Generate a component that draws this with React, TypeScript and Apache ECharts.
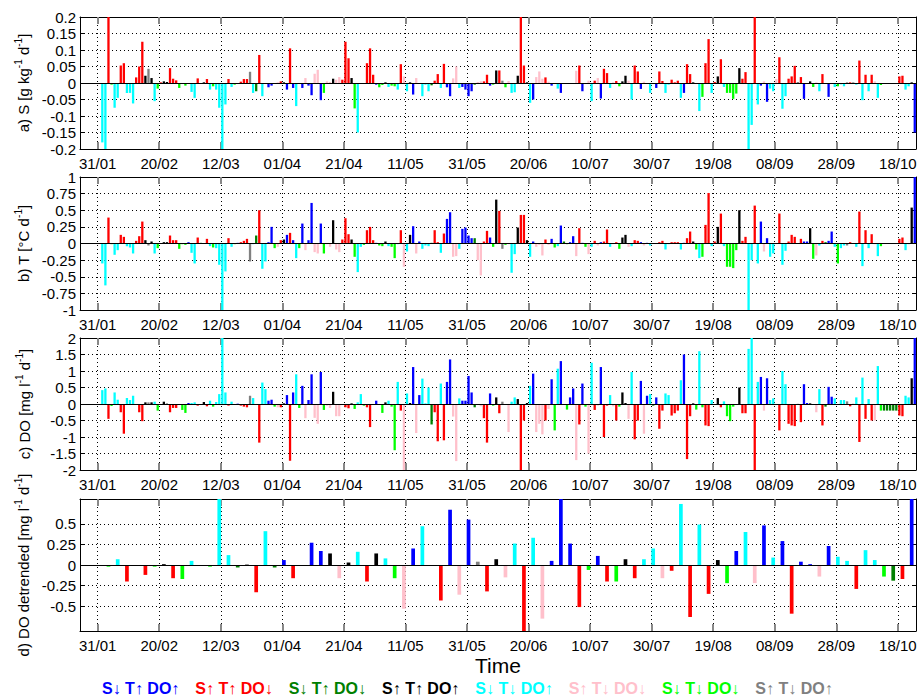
import React, { useEffect, useRef } from 'react';
import * as echarts from 'echarts';

// ---------- x axis ----------
const tickLabels = ['31/01', '20/02', '12/03', '01/04', '21/04', '11/05', '31/05', '20/06', '10/07', '30/07', '19/08', '08/09', '28/09', '18/10'];
const tickDays = [0, 20, 40, 60, 80, 100, 120, 140, 160, 180, 200, 220, 240, 260];
const X_MIN = -5.75;
const X_MAX = 265.9;

// ---------- categories ----------
const categoryCodes = ['B', 'R', 'D', 'K', 'C', 'P', 'G', 'Y'];
const categoryNames = ['S↓ T↑ DO↑', 'S↑ T↑ DO↓', 'S↓ T↑ DO↓', 'S↑ T↑ DO↑', 'S↓ T↓ DO↑', 'S↑ T↓ DO↓', 'S↓ T↓ DO↓', 'S↑ T↓ DO↑'];
const categoryColors = ['#0000ff', '#ff0000', '#008000', '#000000', '#00ffff', '#ffc0cb', '#00ff00', '#808080'];

// ---------- daily data (day k, plotted at k + 0.5 days after 31/01) ----------
const dailyCategory = (
  '-CCRGCCRRC' + 'CCRRRKYKCG' + 'RKKRRRGGGB' + 'CCRDKRCGCC' + 'CCRCGBRRRY' +
  'CDRCCBBGPR' + 'KBRBCGBPBB' + 'PPBGPPKPPR' + 'RRKGCCGRRR' + 'BGGKCGGCRP' +
  'CKBPBCCCDR' + 'RCRBBPPCBB' + 'BBDPPRRBGK' + 'RYGPCCKRRK' + 'CBPPPRPBGC' +
  'BDGBBPRBGP' + 'CRPBRRCPRG' + 'KKPCRRBPBC' + 'DBRRCCRRRC' + 'BRRKGCGRRC' +
  'RKRCGGGGKR' + 'RCCRCBPBCC' + 'PRCCRRRYRB' + 'BKGPCRDBBC' + 'GCCYRYCRCR' +
  'CRPCGDDDDD' + 'RRCCKB'
).split('');

const salinity = [
  0, -0.18, -0.21, 0.21, -0.005, -0.075, -0.045, 0.053, 0.06, -0.03,
  -0.03, -0.062, 0.017, 0.05, 0.125, 0.022, 0.043, 0.015, -0.055, -0.017,
  0.002, 0.005, 0.003, 0.045, 0.013, 0.008, -0.015, -0.003, -0.008, -0.002,
  -0.027, -0.045, 0.014, -0.002, 0.002, 0.012, -0.02, -0.01, -0.02, -0.075,
  -0.21, -0.065, 0.012, -0.012, -0.005, -0.003, 0.004, 0.012, 0.012, 0.034,
  -0.03, -0.025, 0.085, -0.04, -0.002, -0.013, -0.008, -0.002, 0.002, 0.005,
  0.002, -0.02, 0.105, -0.015, -0.07, -0.002, -0.015, 0.015, -0.008, -0.037,
  0.028, 0.04, -0.052, -0.03, 0.005, 0.003, 0.013, 0.01, 0.018, 0.01,
  0.125, 0.075, 0.015, -0.077, -0.15, -0.003, -0.003, 0.06, 0.105, 0.025,
  -0.005, -0.013, -0.006, 0.002, -0.012, -0.008, -0.01, -0.02, 0.057, 0.02,
  -0.025, 0.002, -0.035, 0.015, -0.002, -0.04, -0.005, -0.025, -0.007, 0.007,
  0.027, -0.015, 0.058, -0.013, -0.04, 0.014, 0.05, -0.015, -0.012, -0.02,
  -0.04, -0.025, -0.005, 0.003, 0.005, 0.005, 0.025, -0.008, -0.005, 0.038,
  0.038, 0.007, -0.013, 0.006, -0.03, -0.028, 0.022, 0.21, 0.053, 0.002,
  -0.06, -0.05, 0.018, 0.035, 0.013, 0.017, 0.004, -0.008, -0.002, -0.017,
  -0.03, -0.003, -0.003, -0.002, -0.002, 0.037, 0.053, -0.025, -0.002, 0.007,
  -0.055, 0.007, 0.015, -0.047, 0.043, 0.03, -0.015, 0.002, 0.006, -0.01,
  0.005, 0.022, 0.007, -0.05, 0.053, 0.035, -0.018, 0.004, -0.003, -0.03,
  -0.002, -0.015, 0.035, 0.006, -0.03, -0.005, 0.01, 0.002, 0.007, -0.045,
  -0.03, 0.057, 0.027, 0.002, -0.003, -0.085, -0.042, 0.06, 0.133, -0.03,
  0.003, 0.02, 0.072, -0.012, -0.03, -0.03, -0.048, -0.032, 0.045, 0.013,
  0.033, -0.21, -0.127, 0.21, -0.065, -0.008, 0.005, -0.057, -0.017, -0.025,
  0.012, 0.078, -0.078, -0.04, 0.013, 0.02, 0.052, 0.003, 0.018, -0.048,
  -0.002, 0.005, -0.012, 0.002, -0.025, 0.027, -0.002, -0.042, -0.002, -0.012,
  -0.01, -0.004, -0.01, 0.002, 0.002, 0.002, -0.005, 0.068, -0.052, 0.025,
  -0.025, 0.025, 0.005, -0.045, -0.006, -0.001, -0.001, -0.001, -0.001, -0.001,
  0.02, 0.022, -0.02, -0.01, 0.002, -0.15,
];

const temperature = [
  0, -0.3, -0.63, 0.39, -0.01, -0.17, -0.1, 0.13, 0.1, -0.04,
  -0.06, -0.15, 0.04, 0.11, 0.33, 0.05, -0.03, 0.03, -0.15, -0.07,
  0.005, 0.02, 0.02, 0.12, 0.05, 0.05, -0.08, -0.01, -0.02, 0.02,
  -0.14, -0.3, 0.09, 0.01, 0.005, 0.07, -0.04, -0.06, -0.07, -0.32,
  -1.05, -0.42, 0.08, -0.05, -0.01, 0.01, 0.02, 0.04, 0.07, -0.27,
  -0.01, 0.12, 0.5, -0.38, -0.27, 0.02, 0.25, -0.07, -0.05, 0.05,
  0.06, 0.13, 0.16, 0.05, -0.22, -0.07, 0.3, -0.1, 0.05, 0.61,
  -0.13, -0.15, 0.3, -0.15, -0.01, -0.05, 0.35, -0.09, -0.13, 0.06,
  0.38, 0.14, 0.06, -0.2, -0.43, -0.05, -0.02, 0.2, 0.25, 0.05,
  0.01, -0.03, -0.04, 0.03, -0.04, -0.05, -0.22, -0.01, 0.2, -0.35,
  -0.12, 0.13, 0.26, -0.15, 0.03, -0.08, -0.03, -0.04, 0.01, 0.2,
  0.02, -0.14, 0.15, 0.37, 0.47, -0.2, -0.19, -0.08, 0.22, 0.24,
  0.12, 0.08, 0.08, -0.25, -0.48, 0.03, 0.19, 0.09, -0.05, 0.66,
  0.49, -0.08, -0.02, -0.01, -0.44, -0.16, 0.24, 0.43, 0.43, 0.05,
  -0.2, 0.03, -0.05, -0.02, -0.18, 0.06, -0.02, 0.07, -0.06, -0.04,
  0.27, 0.03, -0.01, 0.02, 0.11, -0.19, 0.23, 0.01, -0.05, -0.16,
  -0.05, 0.04, -0.03, 0.02, 0.03, 0.21, -0.05, -0.01, 0.02, -0.08,
  0.09, 0.13, -0.05, -0.04, 0.05, 0.04, 0.02, -0.03, 0.01, -0.03,
  0.005, 0.005, 0.02, 0.04, -0.09, -0.01, 0.02, 0.02, 0.02, -0.09,
  0.01, 0.08, 0.18, 0.03, -0.09, -0.22, -0.2, 0.28, 0.76, -0.04,
  0.03, 0.25, 0.45, -0.04, -0.35, -0.35, -0.37, -0.1, 0.5, 0.04,
  0.1, -1.05, -0.25, 0.57, -0.3, 0.33, -0.12, 0.08, -0.2, -0.15,
  -0.005, 0.45, -0.32, -0.11, 0.03, 0.13, 0.1, -0.005, 0.07, 0.03,
  0.03, 0.23, -0.23, -0.18, -0.03, 0.04, 0.02, 0.04, 0.18, -0.05,
  -0.3, -0.07, -0.03, -0.03, 0.02, -0.005, -0.05, 0.48, -0.34, 0.2,
  -0.07, 0.14, -0.01, -0.19, -0.04, 0.003, 0.003, 0.003, 0.003, 0.003,
  0.07, 0.09, -0.1, -0.01, 0.54, 1.05,
];

const oxygen = [
  0, 0.42, 0.47, -0.45, -0.06, 0.35, 0.13, -0.25, -0.9, 0.18,
  0.12, 0.25, -0.02, -0.25, -0.52, 0.05, 0.05, 0.05, 0.07, -0.2,
  -0.03, 0.07, 0.01, -0.25, -0.12, -0.12, -0.03, -0.18, -0.27, 0.03,
  0.03, 0.05, -0.05, -0.03, 0.06, -0.07, 0.1, -0.08, 0.06, 0.3,
  2.1, 0.35, -0.05, 0.07, -0.02, 0.01, -0.05, -0.08, -0.1, 0.25,
  0.18, -0.02, -1.17, 0.65, 0.45, 0.1, 0.13, -0.08, -0.1, -0.1,
  0.02, 0.27, -1.72, 0.35, 0.9, -0.12, 0.55, -0.43, 0.12, 0.9,
  -0.42, -0.6, 0.97, -0.18, -0.05, -0.12, 0.37, -0.37, -0.37, -0.03,
  -0.1, -0.13, 0.02, -0.15, 0.05, 0.3, -0.05, -0.1, -0.7, -0.02,
  0.1, -0.02, -0.27, 0.05, 0.1, -0.08, -1.4, 0.67, -0.2, -2.1,
  0.32, 0.03, 1.12, -0.88, 0.27, 0.77, 0.02, 0.5, -0.62, -0.25,
  -1.13, 0.62, -1.1, 0.67, 1.35, -0.38, -1.73, 0.17, 0.1, 0.1,
  0.85, 0.35, -0.1, -0.02, -0.07, -0.43, -1.17, 0.32, -0.05, 0.2,
  -0.28, 0.07, -0.01, -0.85, 0.07, 0.2, 0.15, -2.1, -0.5, 0.03,
  0.55, 0.92, -0.85, -0.6, -0.92, -0.5, -0.15, 0.75, -0.8, 1.07,
  1.3, -0.03, -0.17, 0.2, 0.47, -1.7, -0.62, 0.62, -0.08, -1.5,
  1.25, -0.18, -0.05, 1.12, -1.0, -0.05, 0.27, -0.07, -0.5, -0.08,
  0.35, 0.03, -0.45, 0.97, -1.07, -0.5, 0.7, -0.9, 0.25, 0.3,
  -0.05, 0.2, -0.75, -0.2, 0.32, 0.27, -0.35, -0.28, -0.2, 0.72,
  1.5, -1.67, -0.37, 0.02, -0.17, 1.6, -0.1, -0.65, -0.67, 0.12,
  -0.03, 0.18, -0.1, 0.08, -0.37, -0.52, -0.08, -0.03, 0.5, -0.28,
  -0.28, 1.67, 2.1, -2.1, 0.67, 0.82, -0.2, 0.78, 0.12, 0.17,
  -0.02, -0.8, 1.0, 0.6, -0.6, -0.65, -0.67, 0.005, -0.55, 0.6,
  0.03, 0.02, -0.03, -0.25, 0.45, -0.65, -0.08, 0.52, 0.22, 0.17,
  -0.03, 0.12, 0.12, 0.08, -0.07, 0.005, 0.2, -1.15, 0.8, -0.45,
  0.15, -0.5, -0.5, 1.15, -0.2, -0.2, -0.2, -0.2, -0.2, -0.2,
  -0.35, -0.37, 0.25, 0.2, 0.78, 2.1,
];

// ---------- 3-day detrended DO (bar j plotted at 3j + 0.5 days after 31/01, j = 1..88) ----------
const detrendedCategory = (
  'GCRRRGKRGC' + 'RGCCDYRCDB' + 'RDBBKPKCRK' + 'CGPBCDRBPB' + 'YRKPCRCPBB' +
  'BRGBRGKRCC' + 'PRCRCRKGBC' + 'PBCBRBBPBC' + 'CRCCGDRB'
).split('');

const detrendedOxygen = [
  -0.02, 0.07, -0.2, -0.003, -0.12, -0.02, 0.01, -0.16, -0.17, 0.05,
  -0.005, -0.02, 0.85, 0.12, -0.03, 0.01, -0.33, 0.41, -0.03, 0.06,
  -0.16, -0.005, 0.27, 0.17, 0.14, -0.16, 0.03, 0.16, -0.2, 0.14,
  0.08, -0.16, -0.53, 0.2, 0.47, -0.005, -0.43, 0.67, -0.36, 0.55,
  0.04, -0.32, 0.07, -0.15, 0.26, -0.85, 0.33, -0.65, 0.05, 0.85,
  0.26, -0.51, -0.06, 0.11, -0.2, -0.2, 0.07, -0.16, 0.07, 0.2,
  -0.16, -0.07, 0.74, -0.63, 0.49, -0.35, 0.06, -0.22, 0.17, 0.4,
  -0.22, 0.48, 0.09, 0.29, -0.59, 0.04, 0.01, -0.14, 0.23, 0.1,
  0.05, -0.29, 0.18, 0.06, -0.14, -0.19, -0.17, 0.85,
];

const FONT = 'Liberation Sans';

const dailyX = dailyCategory.map((_, k) => k + 0.5);
const detrendedX = detrendedCategory.map((_, i) => 3 * (i + 1) + 0.5);

const panels = [
  { top: 17, height: 132, min: -0.2, max: 0.2, interval: 0.05, values: salinity, xs: dailyX, cats: dailyCategory, barWidth: 2.3,
    name: '{t|a) S [g kg}{s|-1}{t| d}{s|-1}{t|]}' },
  { top: 177, height: 133, min: -1, max: 1, interval: 0.25, values: temperature, xs: dailyX, cats: dailyCategory, barWidth: 2.3,
    name: '{t|b) T [°C d}{s|-1}{t|]}' },
  { top: 338, height: 132, min: -2, max: 2, interval: 0.5, values: oxygen, xs: dailyX, cats: dailyCategory, barWidth: 2.3,
    name: '{t|c) DO [mg l}{s|-1}{t| d}{s|-1}{t|]}' },
  { top: 499, height: 132, min: -0.8, max: 0.8, custom: [-0.5, -0.25, 0, 0.25, 0.5], values: detrendedOxygen, xs: detrendedX, cats: detrendedCategory, barWidth: 3.7,
    name: '{t|d) DO detrended [mg l}{s|-1}{t| d}{s|-1}{t|]}' },
];

function buildOption() {
  const grid: any[] = [];
  const xAxis: any[] = [];
  const yAxis: any[] = [];
  const series: any[] = [];
  const axisLine = { show: true, onZero: false, lineStyle: { color: '#000', width: 1 } };
  const dotted = { show: true, lineStyle: { color: '#000', type: [1, 3], width: 1 } };

  panels.forEach((p: any, i) => {
    grid.push({ left: 80, right: 5, top: p.top, height: p.height, containLabel: false });
    xAxis.push({
      type: 'value', gridIndex: i, min: X_MIN, max: X_MAX, position: 'bottom',
      axisLine,
      axisTick: { show: true, inside: true, length: 7, customValues: tickDays, lineStyle: { color: '#888', width: 2 } },
      axisLabel: {
        show: true, customValues: tickDays, margin: 7, color: '#000', fontSize: 15, fontFamily: FONT,
        formatter: (v: number) => tickLabels[Math.round(v / 20)] ?? '',
      },
      splitLine: dotted,
      name: i === 3 ? 'Time' : '', nameLocation: 'middle', nameGap: 24,
      nameTextStyle: { color: '#000', fontSize: 21, fontFamily: FONT, lineHeight: 21 },
    });
    xAxis.push({
      type: 'value', gridIndex: i, min: X_MIN, max: X_MAX, position: 'top',
      axisLine,
      axisTick: { show: true, inside: true, length: 7, customValues: tickDays, lineStyle: { color: '#888', width: 2 } },
      axisLabel: { show: false }, splitLine: { show: false },
    });
    const yTick: any = { show: true, inside: true, length: 4, lineStyle: { color: '#000', width: 1 } };
    const yLab: any = { show: true, margin: 4, color: '#000', fontSize: 15, fontFamily: FONT };
    if (p.custom) { yTick.customValues = p.custom; yLab.customValues = p.custom; }
    yAxis.push({
      type: 'value', gridIndex: i, min: p.min, max: p.max, ...(p.interval ? { interval: p.interval } : {}),
      position: 'left', axisLine, axisTick: yTick, axisLabel: yLab, splitLine: dotted,
      name: p.name, nameLocation: 'middle', nameRotate: 90, nameGap: 46,
      nameTextStyle: {
        color: '#000', fontFamily: FONT,
        rich: {
          t: { fontSize: 15, fontFamily: FONT, color: '#000', lineHeight: 20, verticalAlign: 'middle' },
          s: { fontSize: 10, fontFamily: FONT, color: '#000', lineHeight: 20, verticalAlign: 'top' },
        },
      },
    });
    yAxis.push({
      type: 'value', gridIndex: i, min: p.min, max: p.max, ...(p.interval ? { interval: p.interval } : {}),
      position: 'right', axisLine, axisTick: { ...yTick }, axisLabel: { show: false }, splitLine: { show: false },
    });

    categoryCodes.forEach((code, ci) => {
      const data: any[] = [];
      p.cats.forEach((c: string, k: number) => {
        if (c === code) data.push([p.xs[k], p.values[k]]);
      });
      const s: any = {
        type: 'bar', name: categoryNames[ci], xAxisIndex: i * 2, yAxisIndex: i * 2,
        barWidth: p.barWidth, barGap: '-100%', clip: true, silent: true,
        itemStyle: { color: categoryColors[ci] },
        data,
      };
      if (ci === 0) {
        s.markLine = {
          silent: true, symbol: 'none', label: { show: false },
          lineStyle: { color: '#000', width: 1, type: 'solid' },
          data: [{ yAxis: 0 }],
        };
      }
      series.push(s);
    });
  });

  return {
    animation: false,
    backgroundColor: '#fff',
    textStyle: { fontFamily: FONT },
    grid, xAxis, yAxis, series,
    legend: {
      data: categoryNames.map((n, i) => ({ name: n, textStyle: { color: categoryColors[i] } })),
      left: 97, top: 680, itemWidth: 0, itemHeight: 0, itemGap: 11, padding: 0,
      selectedMode: false,
      textStyle: { fontFamily: FONT, fontSize: 16, fontWeight: 'bold', lineHeight: 16 },
    },
  };
}

export default function App() {
  const ref = useRef<HTMLDivElement>(null);
  useEffect(() => {
    if (!ref.current) return;
    const chart = echarts.init(ref.current, null, { renderer: 'svg' });
    chart.setOption(buildOption() as any);
    return () => chart.dispose();
  }, []);
  return (
    <div
      ref={ref}
      style={{ position: 'absolute', left: 0, top: 0, width: 921, height: 697, background: '#fff' }}
    />
  );
}
